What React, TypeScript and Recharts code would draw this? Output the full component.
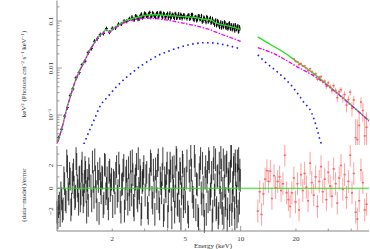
import React from 'react';
import { ComposedChart, Line, Scatter, ErrorBar, XAxis, YAxis, ReferenceLine } from 'recharts';

// ---------------- data ----------------
// total model (green), low band 1-10 keV
const GREEN_LO_E = [1.0, 1.02, 1.05, 1.08, 1.12, 1.18, 1.25, 1.33, 1.42, 1.51, 1.6, 1.68, 1.78, 1.85, 1.92, 2.0, 2.07, 2.2, 2.4, 2.6, 2.83, 3.08, 3.4, 3.7, 4.0, 4.3, 4.65, 5.0, 5.65, 6.4, 6.95, 7.15, 7.45, 8.0, 8.6, 9.3, 10.0];
const GREEN_LO_F = [2.6e-4, 3.1e-4, 4.5e-4, 6.7e-4, 1.2e-3, 2.45e-3, 5.0e-3, 9.0e-3, 0.0148, 0.0242, 0.035, 0.046, 0.056, 0.066, 0.06, 0.067, 0.0734, 0.086, 0.104, 0.114, 0.124, 0.133, 0.136, 0.134, 0.131, 0.128, 0.126, 0.124, 0.118, 0.109, 0.104, 0.095, 0.089, 0.083, 0.078, 0.072, 0.066];
const MAGENTA_LO_F = [2.5e-4, 3.0e-4, 4.4e-4, 6.5e-4, 1.17e-3, 2.4e-3, 4.9e-3, 8.8e-3, 0.0144, 0.0236, 0.034, 0.0445, 0.054, 0.063, 0.057, 0.064, 0.07, 0.082, 0.097, 0.105, 0.112, 0.116, 0.114, 0.109, 0.104, 0.099, 0.093, 0.088, 0.08, 0.07, 0.064, 0.06, 0.057, 0.051, 0.046, 0.041, 0.037];
// high band 12.4-50 keV
const GREEN_HI_E = [12.4, 15, 17.5, 20, 25, 30, 35, 40, 45, 50];
const GREEN_HI_F = [0.046, 0.0294, 0.0206, 0.0141, 0.0076, 0.00424, 0.00257, 0.00163, 0.00109, 7.6e-4];
const MAGENTA_HI_F = [0.027, 0.0205, 0.015, 0.011, 0.0068, 0.0041, 0.00252, 0.00161, 0.00108, 7.5e-4];
// blackbody-like component (blue dotted)
const BLUE_LO_E = [1.4, 1.5, 1.6, 1.71, 1.9, 2.11, 2.35, 2.6, 2.9, 3.21, 3.55, 3.96, 4.45, 5.0, 5.6, 6.4, 7.2, 8.2, 9.0, 10.0];
const BLUE_LO_F = [2.4e-4, 4.6e-4, 8.2e-4, 1.5e-3, 2.5e-3, 4.0e-3, 6.0e-3, 8.3e-3, 0.0115, 0.0148, 0.0185, 0.0222, 0.026, 0.03, 0.0328, 0.0346, 0.034, 0.031, 0.0285, 0.0255];
const BLUE_HI_E = [12.4, 13.5, 15.4, 17.5, 19.8, 22.0, 24.4, 26.0, 27.1, 27.8];
const BLUE_HI_F = [0.019, 0.0138, 0.0091, 0.0058, 0.0034, 0.0019, 0.0011, 5.2e-4, 2.9e-4, 2.2e-4];

// black spectrum (1-10 keV), unfolded
const TOP_BLACK_E = [1.02, 1.06, 1.1, 1.14, 1.18, 1.22, 1.27, 1.32, 1.37, 1.42, 1.48, 1.54, 1.6, 1.66, 1.72, 1.79, 1.86, 1.93, 2.0, 2.08, 2.16, 2.24, 2.32, 2.4, 2.48,
  2.56, 2.64, 2.72, 2.8, 2.88, 2.96, 3.04, 3.12, 3.2, 3.28, 3.36, 3.44, 3.52, 3.6, 3.68, 3.76, 3.84, 3.92, 4.0, 4.08, 4.16, 4.24, 4.32, 4.4, 4.48, 4.56, 4.64, 4.72, 4.8, 4.88, 4.96,
  5.1, 5.22, 5.34, 5.46, 5.58, 5.7, 5.82, 5.94, 6.06, 6.18, 6.3, 6.42, 6.54, 6.66, 6.78, 6.9, 7.02, 7.14, 7.26, 7.38, 7.5, 7.62, 7.74, 7.86, 7.98, 8.1, 8.22, 8.34, 8.46, 8.58, 8.7, 8.82, 8.94, 9.06, 9.18, 9.3, 9.42, 9.54, 9.66, 9.78, 9.9];
const TOP_BLACK_F = [3.3e-4, 5.0e-4, 9.5e-4, 1.45e-3, 2.6e-3, 3.6e-3, 6.2e-3, 8.0e-3, 0.0118, 0.014, 0.0215, 0.0262, 0.0372, 0.0425, 0.0515, 0.0545, 0.069, 0.058, 0.07, 0.0715, 0.0855, 0.087, 0.1, 0.099, 0.112,
  0.121, 0.108, 0.124, 0.111, 0.14, 0.125, 0.14, 0.123, 0.151, 0.128, 0.139, 0.121, 0.148, 0.132, 0.15, 0.121, 0.14, 0.124, 0.144, 0.129, 0.117, 0.137, 0.123, 0.143, 0.117, 0.13, 0.12, 0.137, 0.114, 0.132, 0.12,
  0.113, 0.134, 0.116, 0.136, 0.105, 0.123, 0.109, 0.128, 0.111, 0.097, 0.119, 0.104, 0.123, 0.097, 0.108, 0.0915, 0.112, 0.092, 0.0986, 0.081, 0.101, 0.0809, 0.0877, 0.0727, 0.0905, 0.0787, 0.0915, 0.0712, 0.0822, 0.0733, 0.0893, 0.0684, 0.0803, 0.0703, 0.0818, 0.0626, 0.0746, 0.0686, 0.0787, 0.0619, 0.069];
// second (interleaved) set of black bins
const TOP_BLACK2_E = [2.6, 2.68, 2.76, 2.84, 2.92, 3.0, 3.08, 3.16, 3.24, 3.32, 3.4, 3.48, 3.56, 3.64, 3.72, 3.8, 3.88, 3.96, 4.04, 4.12, 4.2, 4.28, 4.36, 4.44, 4.52, 4.6, 4.68, 4.76, 4.84, 4.92,
  5.16, 5.28, 5.4, 5.52, 5.64, 5.76, 5.88, 6.0, 6.12, 6.24, 6.36, 6.48, 6.6, 6.72, 6.84, 6.96, 7.08, 7.2, 7.32, 7.44, 7.56, 7.68, 7.8, 7.92, 8.04, 8.16, 8.28, 8.4, 8.52, 8.64, 8.76, 8.88, 9.0, 9.12, 9.24, 9.36, 9.48, 9.6, 9.72, 9.84];
const TOP_BLACK2_F = [0.108, 0.128, 0.11, 0.129, 0.119, 0.146, 0.128, 0.143, 0.121, 0.149, 0.128, 0.143, 0.121, 0.149, 0.13, 0.144, 0.122, 0.135, 0.117, 0.147, 0.124, 0.136, 0.116, 0.138, 0.12, 0.141, 0.117, 0.13, 0.122, 0.134,
  0.13, 0.111, 0.136, 0.112, 0.12, 0.103, 0.127, 0.109, 0.129, 0.1, 0.114, 0.0944, 0.116, 0.103, 0.117, 0.0958, 0.099, 0.0837, 0.104, 0.0846, 0.0936, 0.0744, 0.0944, 0.0823, 0.0743, 0.0945, 0.0757, 0.0835, 0.0691, 0.0876, 0.0734, 0.0823, 0.0663, 0.0757, 0.0667, 0.0822, 0.067, 0.0737, 0.0596, 0.0743];
const BLACK_REL_ERR = 0.1;

// red spectrum (high energies), unfolded
const TOP_RED_E = [19.5, 19.9, 20.4, 20.8, 21.3, 21.8, 22.3, 22.8, 23.3, 23.9, 24.4, 25.0, 25.6, 26.2, 26.8, 27.4, 28.0, 28.7, 29.3, 30.0, 30.7, 31.4, 32.1, 32.9, 33.6, 34.4, 35.2, 36.0, 36.8, 37.7, 38.6, 39.5, 40.4, 41.3, 42.3, 43.2, 44.2, 45.2, 46.3, 47.4, 48.5];
const TOP_RED_F = [0.01555, 0.01378, 0.01349, 0.01181, 0.01243, 0.01105, 0.01106, 0.00985, 0.00876, 0.00967, 0.00839, 0.0073, 0.00755, 0.00577, 0.00639, 0.00656, 0.00514, 0.00527, 0.00408, 0.00489, 0.00403, 0.00332, 0.0042, 0.00333, 0.00233, 0.00312, 0.00346, 0.00229, 0.00273, 0.00162, 0.00212, 0.00306, 0.00139, 0.00209, 0.00033, 0.0003, 0.0006, 0.00189, 0.00125, 0.00036, 0.00055];
const TOP_RED_ERR = [4.5e-4, 4.3e-4, 4.7e-4, 4.4e-4, 4.7e-4, 4.5e-4, 4.7e-4, 4.4e-4, 4.6e-4, 4.7e-4, 4.9e-4, 4.9e-4, 4.9e-4, 4.9e-4, 4.9e-4, 4.8e-4, 4.8e-4, 4.9e-4, 4.8e-4, 4.7e-4, 4.7e-4, 4.7e-4, 4.7e-4, 4.7e-4, 4.7e-4, 4.6e-4, 4.8e-4, 4.7e-4, 4.8e-4, 4.8e-4, 4.8e-4, 4.7e-4, 4.7e-4, 4.8e-4, 4.9e-4, 5.0e-4, 5.1e-4, 5.1e-4, 5.4e-4, 5.6e-4, 5.9e-4];

// residuals (data-model)/error
const RES_BLACK_E = [1.0, 1.02, 1.04, 1.06, 1.08, 1.1, 1.12, 1.14, 1.16, 1.18, 1.2, 1.22, 1.24, 1.26, 1.28, 1.3, 1.32, 1.34, 1.36, 1.38, 1.4, 1.42, 1.44, 1.46, 1.48, 1.5,
  1.53, 1.56, 1.59, 1.62, 1.65, 1.68, 1.71, 1.74, 1.77, 1.8, 1.83, 1.86, 1.89, 1.92, 1.95, 1.98,
  2.01, 2.05, 2.09, 2.13, 2.17, 2.21, 2.25, 2.29, 2.33, 2.37, 2.41, 2.45, 2.49, 2.53, 2.57, 2.61, 2.65, 2.69, 2.73, 2.77, 2.81, 2.85, 2.89, 2.93, 2.97,
  3.02, 3.08, 3.14, 3.2, 3.26, 3.32, 3.38, 3.44, 3.5, 3.56, 3.62, 3.68, 3.74, 3.8, 3.86, 3.92, 3.98, 4.04, 4.1, 4.16, 4.22, 4.28, 4.34, 4.4, 4.46, 4.52, 4.58, 4.64, 4.7, 4.76, 4.82, 4.88, 4.94,
  5.0, 5.1, 5.2, 5.3, 5.4, 5.5, 5.6, 5.7, 5.8, 5.9, 6.0, 6.1, 6.2, 6.3, 6.4, 6.5, 6.6, 6.7, 6.8, 6.9, 7.0, 7.1, 7.2, 7.3, 7.4, 7.5, 7.6, 7.7, 7.8, 7.9, 8.0, 8.1, 8.2, 8.3, 8.4, 8.5, 8.6, 8.7, 8.8, 8.9, 9.0, 9.1, 9.2, 9.3, 9.4, 9.5, 9.6, 9.7, 9.8, 9.9];
const RES_BLACK_R = [-2.1, -1.6, -2.4, -0.9, -1.8, 0.4, -1.2, 1.9, -0.5, 0.8, -1.4, 1.2, 0.1, -0.7, 2.1, -0.2, 0.9, -1.1, 1.5, 0.3, -0.6, 1.8, -0.3, 0.7, -1.5, 1.1,
  0.2, 2.3, -0.8, 1.0, -1.9, 0.6, 1.7, -0.4, 0.9, -1.3, 2.0, 0.0, -0.9, 1.4, -0.2, 0.8,
  -1.6, 0.5, 1.3, -0.7, 2.2, -1.2, 0.3, 1.6, -2.0, 0.9, -0.1, 1.8, -1.0, 0.6, 2.4, -1.5, 0.2, 1.1, -0.8, 2.6, -0.4, 1.0, -1.7, 0.7, 1.9,
  -0.6, 1.4, -2.2, 0.8, 2.1, -1.3, 0.1, 1.7, -0.9, 2.5, -1.8, 0.4, 1.2, -2.4, 0.9, -0.3, 2.2, -1.1, 0.6, 1.5, -2.6, 0.2, 1.9, -0.7, 2.7, -1.4, 0.5, -2.0, 1.3, -0.5, 2.3, -1.6, 0.8,
  -1.2, 2.4, -2.5, 0.7, 1.6, -0.8, 2.8, -1.9, 0.3, -2.7, 1.8, -0.4, 2.2, -1.5, 0.9, -2.3, 1.4, 2.6, -1.0, 0.2, -2.8, 1.7, -0.6, 2.5, -1.7, 1.1, -2.2, 0.5, 2.7, -1.3, 0.0, -2.6, 1.9, -0.9, 2.3, -1.8, 0.6, -2.4, 1.5, 2.8, -1.1, -0.2, 2.1, -2.7, 1.2, -0.7, 2.4, -2.0, 0.8, 1.6];
// interleaved residual bins
const RES_BLACK2_E = [1.01, 1.03, 1.05, 1.07, 1.09, 1.11, 1.13, 1.15, 1.17, 1.19, 1.21, 1.23, 1.25, 1.27, 1.29, 1.31, 1.33, 1.35, 1.37, 1.39, 1.41, 1.43, 1.45, 1.47, 1.49,
  1.545, 1.575, 1.605, 1.635, 1.665, 1.695, 1.725, 1.755, 1.785, 1.815, 1.845, 1.875, 1.905, 1.935, 1.965,
  2.03, 2.07, 2.11, 2.15, 2.19, 2.23, 2.27, 2.31, 2.35, 2.39, 2.43, 2.47, 2.51, 2.55, 2.59, 2.63, 2.67, 2.71, 2.75, 2.79, 2.83, 2.87, 2.91, 2.95,
  3.05, 3.11, 3.17, 3.23, 3.29, 3.35, 3.41, 3.47, 3.53, 3.59, 3.65, 3.71, 3.77, 3.83, 3.89, 3.95, 4.01, 4.07, 4.13, 4.19, 4.25, 4.31, 4.37, 4.43, 4.49, 4.55, 4.61, 4.67, 4.73, 4.79, 4.85, 4.91,
  5.05, 5.15, 5.25, 5.35, 5.45, 5.55, 5.65, 5.75, 5.85, 5.95, 6.05, 6.15, 6.25, 6.35, 6.45, 6.55, 6.65, 6.75, 6.85, 6.95, 7.05, 7.15, 7.25, 7.35, 7.45, 7.55, 7.65, 7.75, 7.85, 7.95, 8.05, 8.15, 8.25, 8.35, 8.45, 8.55, 8.65, 8.75, 8.85, 8.95, 9.05, 9.15, 9.25, 9.35, 9.45, 9.55, 9.65, 9.75, 9.85, 9.95];
const RES_BLACK2_R = [-2.6, -1.3, -0.4, -2.0, 0.9, -1.0, 2.4, -0.1, 1.3, -1.9, 0.5, 1.6, -0.9, 2.6, 0.2, -1.4, 1.0, -0.5, 2.2, -1.2, 0.6, 1.4, -2.1, 0.0, 1.7,
  -1.1, 0.6, 2.5, -0.3, 1.3, -2.2, 0.4, 1.0, -1.6, 2.1, -0.5, 0.9, -1.8, 1.6, 0.3,
  0.7, -1.3, 1.9, -0.2, 1.1, -2.1, 0.4, 2.0, -0.9, 1.5, -1.4, 0.3, 2.3, -0.6, 1.2, -1.9, 0.8, 2.1, -1.1, 0.0, 1.6, -2.3, 0.5, 1.3,
  1.1, -1.7, 0.3, 2.4, -0.8, 1.6, -2.3, 0.6, 2.0, -1.2, 0.9, -0.4, 2.6, -1.9, 0.2, 1.3, -2.5, 0.7, 2.2, -1.0, 1.8, -0.2, -2.1, 1.0, 2.5, -1.5, 0.4, 1.7, -2.7, 0.1, 2.0, -0.9,
  0.9, -2.1, 1.5, 2.9, -0.3, -1.6, 2.0, 0.4, -2.4, 1.2, 2.6, -1.4, 0.1, -2.9, 1.9, 0.6, -1.2, 2.3, -0.5, 1.4, -2.0, 2.7, 0.3, -1.9, 1.0, -2.6, 2.2, -0.8, 1.6, -2.2, 2.5, 0.2, -1.5, 2.0, -2.8, 0.8, 1.3, -1.0, 2.9, -2.3, 0.5, 1.8, -1.7, 2.4, -0.4, -2.5, 1.1, 2.6, -1.3, 0.7];
const RES_RED_E = [12.4, 12.7, 13.0, 13.3, 13.6, 13.9, 14.2, 14.5, 14.8, 15.2, 15.5, 15.9, 16.3, 16.6, 17.0, 17.4, 17.8, 18.2, 18.6, 19.0,
  19.5, 19.9, 20.4, 20.8, 21.3, 21.8, 22.3, 22.8, 23.3, 23.9, 24.4, 25.0, 25.6, 26.2, 26.8, 27.4, 28.0, 28.7, 29.3, 30.0,
  30.7, 31.4, 32.1, 32.9, 33.6, 34.4, 35.2, 36.0, 36.8, 37.7, 38.6, 39.5, 40.4, 41.3, 42.3, 43.2, 44.2, 45.2, 46.3, 47.4, 48.5];
const RES_RED_R = [-2.0, -0.3, -2.3, -0.5, 0.8, 1.55, 0.6, 1.5, -0.9, 1.1, 0.05, 0.6, 1.0, -0.2, 0.4, 2.9, -0.4, -1.0, -1.6, -0.4,
  0.9, -1.2, 0.4, -1.9, 1.2, -0.2, 1.3, 0.1, -1.1, 2.2, 0.5, -0.6, 1.0, -1.6, 0.6, 1.9, -0.3, 0.8, -1.0, 1.4,
  0.2, -0.7, 1.7, 0.4, -1.3, 0.9, 2.0, -0.1, 1.2, -0.8, 0.6, 2.9, -0.4, 1.3, -2.1, -2.7, -1.1, 1.6, 0.5, -1.9, -1.4];
const RES_ERR = 1; // (data-model)/error bars are one sigma by definition

// axis ticks
const X_TICKS = [2, 3, 4, 5, 6, 7, 8, 9, 10, 20, 30, 40];
const X_LABELS = [2, 5, 10, 20];
const Y_TOP_TICKS = [3e-4, 4e-4, 5e-4, 6e-4, 7e-4, 8e-4, 9e-4, 1e-3, 2e-3, 3e-3, 4e-3, 5e-3, 6e-3, 7e-3, 8e-3, 9e-3, 0.01, 0.02, 0.03, 0.04, 0.05, 0.06, 0.07, 0.08, 0.09, 0.1, 0.2];
const Y_TOP_MAJOR = [1e-3, 0.01, 0.1];
const Y_RES_TICKS = [-3, -2, -1, 0, 1, 2, 3];
const Y_RES_MAJOR = [-2, 0, 2];

// ---------------- styles ----------------
const X_DOMAIN = [1, 50];
const TOP_Y_DOMAIN = [2.42e-4, 0.273];
const RES_Y_DOMAIN = [-3.75, 3.71];
const FRAME = '#858585';
const TEXT = '#333';
const FONT = '"Liberation Serif", "Times New Roman", serif';
const GREEN = '#1fe01f';
const MAGENTA = '#f000f0';
const BLUE = '#1a1aff';
const RED_BAR = '#ffa0a0';
const AXIS_LINE = { stroke: FRAME, strokeWidth: 1 };

const pts = (xs: number[], ys: number[]) => xs.map((x, i) => ({ x, y: ys[i] }));
const halfBin = (xs: number[], i: number) => {
  const a = xs[Math.max(0, i - 1)];
  const b = xs[Math.min(xs.length - 1, i + 1)];
  return (b - a) / ((i === 0 || i === xs.length - 1) ? 2 : 4);
};

const greenLo = pts(GREEN_LO_E, GREEN_LO_F);
const magentaLo = pts(GREEN_LO_E, MAGENTA_LO_F);
const greenHi = pts(GREEN_HI_E, GREEN_HI_F);
const magentaHi = pts(GREEN_HI_E, MAGENTA_HI_F);
const blueLo = pts(BLUE_LO_E, BLUE_LO_F);
const blueHi = pts(BLUE_HI_E, BLUE_HI_F);
const topBlack = [
  ...TOP_BLACK_E.map((x, i) => ({ x, y: TOP_BLACK_F[i], ey: TOP_BLACK_F[i] * BLACK_REL_ERR, ex: halfBin(TOP_BLACK_E, i) })),
  ...TOP_BLACK2_E.map((x, i) => ({ x, y: TOP_BLACK2_F[i], ey: TOP_BLACK2_F[i] * BLACK_REL_ERR, ex: halfBin(TOP_BLACK2_E, i) })),
];
const topRed = TOP_RED_E.map((x, i) => ({ x, y: TOP_RED_F[i], ey: [Math.min(TOP_RED_ERR[i], TOP_RED_F[i] * 0.999), TOP_RED_ERR[i]], ex: halfBin(TOP_RED_E, i) }));
const resBlack = [
  ...RES_BLACK_E.map((x, i) => ({ x, y: RES_BLACK_R[i], e: RES_ERR })),
  ...RES_BLACK2_E.map((x, i) => ({ x, y: RES_BLACK2_R[i], e: RES_ERR })),
];
const resRed = RES_RED_E.map((x, i) => ({ x, y: RES_RED_R[i], e: RES_ERR, ex: halfBin(RES_RED_E, i) }));

// ---------------- ticks ----------------
const xTick = (dir: number, withLabels: boolean) => (p: any) => {
  const v = p.payload.value;
  const len = v === 10 ? 5 : 2.5;
  return (
    <g>
      <line x1={p.x} x2={p.x} y1={p.y} y2={p.y + dir * len} stroke={FRAME} strokeWidth={0.8} />
      {withLabels && X_LABELS.includes(v) ? (
        <text x={p.x} y={p.y + 10} textAnchor="middle" fontSize={7} fill={TEXT} fontFamily={FONT}>{v}</text>
      ) : null}
    </g>
  );
};

const topLabel = (v: number) => {
  if (v === 0.1) return '0.1';
  if (v === 0.01) return '0.01';
  if (v === 1e-3) return (
    <>10<tspan dy={-2.4} fontSize={4.8}>−3</tspan></>
  );
  return null;
};
const resLabel = (v: number) => (v < 0 ? `−${-v}` : `${v}`);

const yTick = (dir: number, majors: number[], label?: (v: number) => any) => (p: any) => {
  const v = p.payload.value;
  const major = majors.includes(v);
  const len = major ? 5 : 2.5;
  const lx = p.x - 4;
  return (
    <g>
      <line x1={p.x} x2={p.x + dir * len} y1={p.y} y2={p.y} stroke={FRAME} strokeWidth={0.8} />
      {label && major ? (
        <text x={lx} y={p.y} transform={`rotate(-90 ${lx} ${p.y})`} textAnchor="middle" fontSize={7} fill={TEXT} fontFamily={FONT}>{label(v)}</text>
      ) : null}
    </g>
  );
};

const NoMark = () => <g />;
const RedMark = (p: any) => <rect x={p.cx - 1} y={p.cy - 0.75} width={2} height={1.5} fill="#ff6060" />;

const axisCommon = { tickSize: 0, tickMargin: 0, tickLine: false, axisLine: AXIS_LINE, interval: 0 as const };

function TopPanel() {
  return (
    <ComposedChart width={370} height={145} margin={{ top: 0.5, right: 1, bottom: 1, left: 0 }}>
      <XAxis xAxisId="b" dataKey="x" type="number" scale="log" domain={X_DOMAIN} allowDataOverflow orientation="bottom" height={0} ticks={X_TICKS} tick={xTick(-1, false)} {...axisCommon} />
      <XAxis xAxisId="t" dataKey="x" type="number" scale="log" domain={X_DOMAIN} allowDataOverflow orientation="top" height={0} ticks={X_TICKS} tick={xTick(1, false)} {...axisCommon} />
      <YAxis yAxisId="l" dataKey="y" type="number" scale="log" domain={TOP_Y_DOMAIN} allowDataOverflow width={57} ticks={Y_TOP_TICKS} tick={yTick(1, Y_TOP_MAJOR, topLabel)} {...axisCommon} />
      <YAxis yAxisId="r" dataKey="y" type="number" scale="log" domain={TOP_Y_DOMAIN} allowDataOverflow orientation="right" width={0} ticks={Y_TOP_TICKS} tick={yTick(-1, Y_TOP_MAJOR)} {...axisCommon} />
      <Scatter data={topBlack} xAxisId="b" yAxisId="l" shape={NoMark} isAnimationActive={false}>
        <ErrorBar dataKey="ey" direction="y" width={0} stroke="#000" strokeWidth={1} />
        <ErrorBar dataKey="ex" direction="x" width={0} stroke="#000" strokeWidth={1} />
      </Scatter>
      <Scatter data={topRed} xAxisId="b" yAxisId="l" shape={RedMark} isAnimationActive={false}>
        <ErrorBar dataKey="ey" direction="y" width={0} stroke={RED_BAR} strokeWidth={1} />
        <ErrorBar dataKey="ex" direction="x" width={0} stroke={RED_BAR} strokeWidth={1} />
      </Scatter>
      <Line data={greenLo} dataKey="y" xAxisId="b" yAxisId="l" type="monotone" stroke={GREEN} strokeWidth={1.3} dot={false} activeDot={false} isAnimationActive={false} />
      <Line data={greenHi} dataKey="y" xAxisId="b" yAxisId="l" type="monotone" stroke={GREEN} strokeWidth={1.3} dot={false} activeDot={false} isAnimationActive={false} />
      <Line data={magentaLo} dataKey="y" xAxisId="b" yAxisId="l" type="monotone" stroke={MAGENTA} strokeWidth={1.3} strokeDasharray="4 1.5 1.5 1.5" dot={false} activeDot={false} isAnimationActive={false} />
      <Line data={magentaHi} dataKey="y" xAxisId="b" yAxisId="l" type="monotone" stroke={MAGENTA} strokeWidth={1.3} strokeDasharray="4 1.5 1.5 1.5" dot={false} activeDot={false} isAnimationActive={false} />
      <Line data={blueLo} dataKey="y" xAxisId="b" yAxisId="l" type="monotone" stroke={BLUE} strokeWidth={1.6} strokeDasharray="1.6 3.4" dot={false} activeDot={false} isAnimationActive={false} />
      <Line data={blueHi} dataKey="y" xAxisId="b" yAxisId="l" type="monotone" stroke={BLUE} strokeWidth={1.6} strokeDasharray="1.6 3.4" dot={false} activeDot={false} isAnimationActive={false} />
    </ComposedChart>
  );
}

function ResidualPanel() {
  return (
    <ComposedChart width={370} height={104} margin={{ top: 1, right: 1, bottom: 0, left: 0 }}>
      <XAxis xAxisId="b" dataKey="x" type="number" scale="log" domain={X_DOMAIN} allowDataOverflow orientation="bottom" height={18} ticks={X_TICKS} tick={xTick(-1, true)} {...axisCommon} />
      <XAxis xAxisId="t" dataKey="x" type="number" scale="log" domain={X_DOMAIN} allowDataOverflow orientation="top" height={0} ticks={X_TICKS} tick={xTick(1, false)} {...axisCommon} />
      <YAxis yAxisId="l" dataKey="y" type="number" domain={RES_Y_DOMAIN} allowDataOverflow width={57} ticks={Y_RES_TICKS} tick={yTick(1, Y_RES_MAJOR, resLabel)} {...axisCommon} />
      <YAxis yAxisId="r" dataKey="y" type="number" domain={RES_Y_DOMAIN} allowDataOverflow orientation="right" width={0} ticks={Y_RES_TICKS} tick={yTick(-1, Y_RES_MAJOR)} {...axisCommon} />
      <Scatter data={resBlack} xAxisId="b" yAxisId="l" shape={NoMark} isAnimationActive={false}>
        <ErrorBar dataKey="e" direction="y" width={0} stroke="#000" strokeOpacity={0.7} strokeWidth={1.1} />
      </Scatter>
      <Scatter data={resRed} xAxisId="b" yAxisId="l" shape={RedMark} isAnimationActive={false}>
        <ErrorBar dataKey="e" direction="y" width={0} stroke={RED_BAR} strokeWidth={1} />
        <ErrorBar dataKey="ex" direction="x" width={0} stroke={RED_BAR} strokeWidth={1} />
      </Scatter>
      <ReferenceLine y={0} xAxisId="b" yAxisId="l" stroke={GREEN} strokeWidth={1.2} />
    </ComposedChart>
  );
}

export default function App() {
  return (
    <div style={{ position: 'absolute', left: 0, top: 0, width: 370, height: 249, background: '#fff', overflow: 'hidden' }}>
      <div style={{ position: 'absolute', left: 0, top: 0 }}><TopPanel /></div>
      <div style={{ position: 'absolute', left: 0, top: 145 }}><ResidualPanel /></div>
      <svg width={370} height={249} style={{ position: 'absolute', left: 0, top: 0, pointerEvents: 'none' }} fontFamily={FONT} fill={TEXT}>
        <text x={26} y={74} transform="rotate(-90 26 74)" textAnchor="middle" fontSize={7}>
          keV<tspan dy={-2.4} fontSize={4.8}>2</tspan><tspan dy={2.4}> (Photons cm</tspan><tspan dy={-2.4} fontSize={4.8}>−2</tspan><tspan dy={2.4}> s</tspan><tspan dy={-2.4} fontSize={4.8}>−1</tspan><tspan dy={2.4}> keV</tspan><tspan dy={-2.4} fontSize={4.8}>−1</tspan><tspan dy={2.4}>)</tspan>
        </text>
        <text x={26} y={195} transform="rotate(-90 26 195)" textAnchor="middle" fontSize={7}>(data−model)/error</text>
        <text x={213} y={247.5} textAnchor="middle" fontSize={7}>Energy (keV)</text>
      </svg>
    </div>
  );
}
